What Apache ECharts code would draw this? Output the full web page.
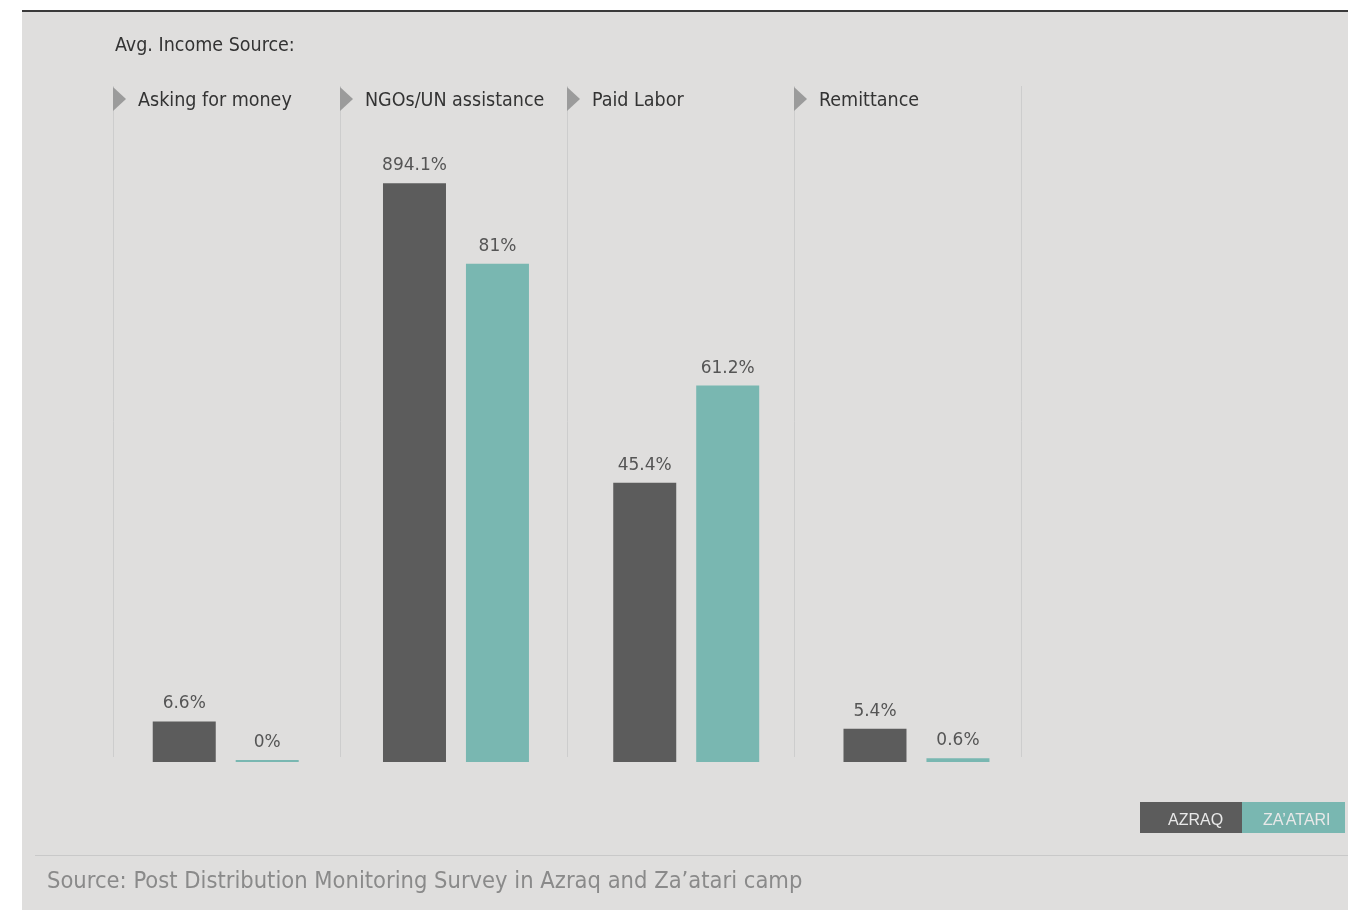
<!DOCTYPE html>
<html>
<head>
<meta charset="utf-8">
<script src="https://cdn.jsdelivr.net/npm/echarts@6/dist/echarts.min.js"></script>
<style>
html,body{margin:0;padding:0;background:#ffffff;}
#chart{width:1348px;height:910px;}
</style>
</head>
<body>
<div id="chart"></div>
<script>
// ---- data ----
const titleText = 'Avg. Income Source:';
const sourceText = 'Source: Post Distribution Monitoring Survey in Azraq and Za\u2019atari camp';
const categories = ['Asking for money', 'NGOs/UN assistance', 'Paid Labor', 'Remittance'];
const seriesNames = ['AZRAQ', 'ZA\u2019ATARI'];
const azraqValues = [6.6, 94.1, 45.4, 5.4];
const zaatariValues = [0, 81, 61.2, 0.6];
const azraqLabels = ['6.6%', '894.1%', '45.4%', '5.4%'];
const zaatariLabels = ['0%', '81%', '61.2%', '0.6%'];

const narrow = '"DejaVu Sans Condensed", "Liberation Sans Narrow", "Liberation Sans", sans-serif';
const labelFont = '"DejaVu Sans", "Liberation Sans", sans-serif';
const regular = '"Liberation Sans", Arial, sans-serif';
const darkColor = '#5c5c5c';
const tealColor = '#79b7b1';

const chart = echarts.init(document.getElementById('chart'), null, {renderer: 'canvas'});

const labelStyle = {
  show: true, position: 'top', distance: 9,
  fontFamily: labelFont, fontSize: 17, color: '#555555'
};

const option = {
  animation: false,
  backgroundColor: '#ffffff',
  title: [
    {text: titleText, left: 110, top: 31,
     textStyle: {fontFamily: narrow, fontSize: 19.5, fontWeight: 'normal', color: '#333333'}},
    {text: sourceText, left: 42, top: 865,
     textStyle: {fontFamily: narrow, fontSize: 23.5, fontWeight: 'normal', color: '#8a8a8a'}}
  ],
  grid: [
    {left: 110.6, width: 921, top: 147, height: 615},
    {left: 113, width: 908, top: 86, height: 671}
  ],
  xAxis: [
    {type: 'category', gridIndex: 0, data: categories,
     axisLine: {show: false}, axisTick: {show: false}, axisLabel: {show: false}, splitLine: {show: false}},
    {type: 'value', gridIndex: 1, min: 0, max: categories.length, interval: 1, position: 'top',
     axisLine: {show: false}, axisTick: {show: false},
     splitLine: {show: true, lineStyle: {color: '#cdcdcd', width: 1}},
     axisLabel: {
       show: true, inside: true, margin: 3, align: 'left', verticalAlign: 'top',
       padding: [0, 0, 0, 25], showMaxLabel: false,
       fontFamily: narrow, fontSize: 19.5, color: '#333333', lineHeight: 24,
       formatter: function (v) { return categories[v] || ''; }
     }}
  ],
  yAxis: [
    {type: 'value', gridIndex: 0, min: 0, max: 100, show: false, splitLine: {show: false}},
    {type: 'value', gridIndex: 1, min: 0, max: 1, show: false, splitLine: {show: false}}
  ],
  series: [
    {name: seriesNames[0], type: 'bar', xAxisIndex: 0, yAxisIndex: 0,
     data: azraqValues, barWidth: 63, barGap: '31.7%', barMinHeight: 2,
     itemStyle: {color: darkColor},
     label: Object.assign({}, labelStyle, {formatter: function (p) { return azraqLabels[p.dataIndex]; }})},
    {name: seriesNames[1], type: 'bar', xAxisIndex: 0, yAxisIndex: 0,
     data: zaatariValues, barWidth: 63, barGap: '31.7%', barMinHeight: 2,
     itemStyle: {color: tealColor},
     label: Object.assign({}, labelStyle, {formatter: function (p) { return zaatariLabels[p.dataIndex]; }})}
  ]
};
chart.setOption(option);

// decorative elements
const graphics = [
  {type: 'rect', z: -100, shape: {x: 22, y: 11, width: 1326, height: 899}, style: {fill: '#dfdedd'}},
  {type: 'rect', z: 10, shape: {x: 22, y: 10, width: 1326, height: 2}, style: {fill: '#3a3a3a'}},
  {type: 'rect', z: 10, shape: {x: 35, y: 855, width: 1313, height: 1}, style: {fill: '#c9c9c9'}}
];
// header triangles at each panel start
for (let i = 0; i < categories.length; i++) {
  const px = chart.convertToPixel({xAxisIndex: 1}, i);
  graphics.push({type: 'polygon', z: 10,
    shape: {points: [[px, 87], [px + 13, 99], [px, 111]]},
    style: {fill: '#9b9b9b'}});
}
// legend boxes
const legendColors = [darkColor, tealColor];
const legendTextX = [28, 21];
let lx = 1140;
for (let i = 0; i < seriesNames.length; i++) {
  const w = i === 0 ? 102 : 103;
  graphics.push({type: 'rect', z: 10, shape: {x: lx, y: 802, width: w, height: 31}, style: {fill: legendColors[i]}});
  graphics.push({type: 'text', z: 11, x: lx + legendTextX[i], y: 821,
    style: {text: seriesNames[i], fill: '#e8e8e8', font: '16px ' + regular, textVerticalAlign: 'middle', verticalAlign: 'middle'}});
  lx += w;
}
chart.setOption({graphic: graphics});
</script>
</body>
</html>
